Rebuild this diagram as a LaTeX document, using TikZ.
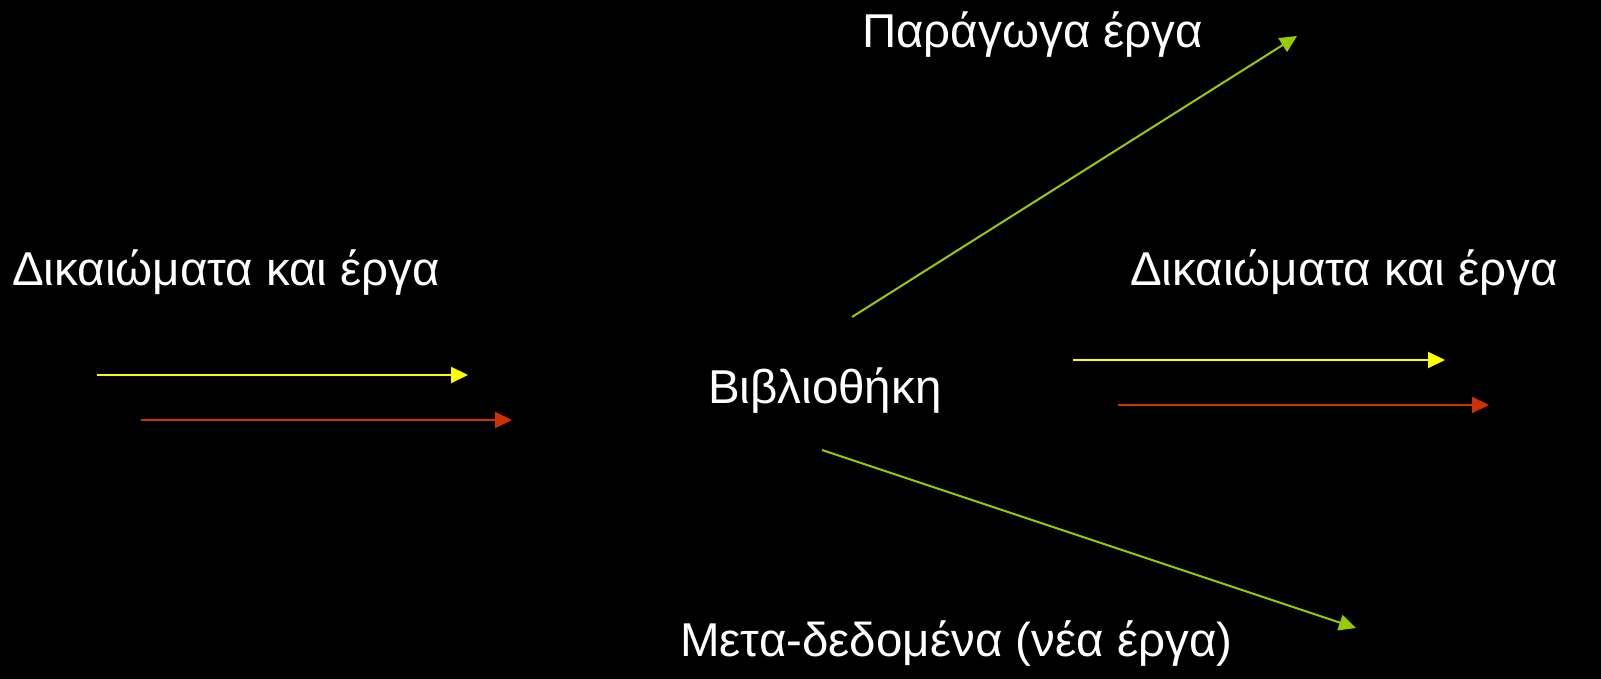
\documentclass[tikz,border=0pt]{standalone}
\usepackage{fontspec}
\setmainfont{Liberation Sans}
\usetikzlibrary{arrows.meta}
\definecolor{ayellow}{HTML}{FFFF00}
\definecolor{ared}{HTML}{CC3300}
\definecolor{agreen}{HTML}{99CC00}
\begin{document}
\begin{tikzpicture}[x=1pt,y=-1pt,
  lbl/.style={text=white,inner sep=0pt,anchor=base west,font=\fontsize{47.5}{57}\selectfont},
  arr/.style={line width=2pt,-{Triangle[length=17pt,width=16pt]}}]
\fill[black] (0,0) rectangle (1601,679);
\useasboundingbox (0,0) rectangle (1601,679);
\node[lbl] (lw) at (12,285) {Δικαιώματα και έργα};
\node[lbl] (rw) at (1130,285) {Δικαιώματα και έργα};
\node[lbl] (pe) at (862,48) {Παράγωγα έργα};
\node[lbl] (lib) at (708,403) {Βιβλιοθήκη};
\node[lbl] (md) at (680,656) {Μετα-δεδομένα (νέα έργα)};
\coordinate (ly1) at (97,375);  \coordinate (ly2) at (468,375);
\coordinate (lr1) at (141,420); \coordinate (lr2) at (512,420);
\coordinate (ry1) at (1073,360); \coordinate (ry2) at (1445,360);
\coordinate (rr1) at (1118,405); \coordinate (rr2) at (1489,405);
\coordinate (g1) at (852,317); \coordinate (g2) at (1297,36);
\coordinate (h1) at (822,450); \coordinate (h2) at (1356,628);
\draw[arr,ayellow] (ly1) -- (ly2);
\draw[arr,ared] (lr1) -- (lr2);
\draw[arr,ayellow] (ry1) -- (ry2);
\draw[arr,ared] (rr1) -- (rr2);
\draw[arr,agreen] (g1) -- (g2);
\draw[arr,agreen] (h1) -- (h2);
\end{tikzpicture}
\end{document}
